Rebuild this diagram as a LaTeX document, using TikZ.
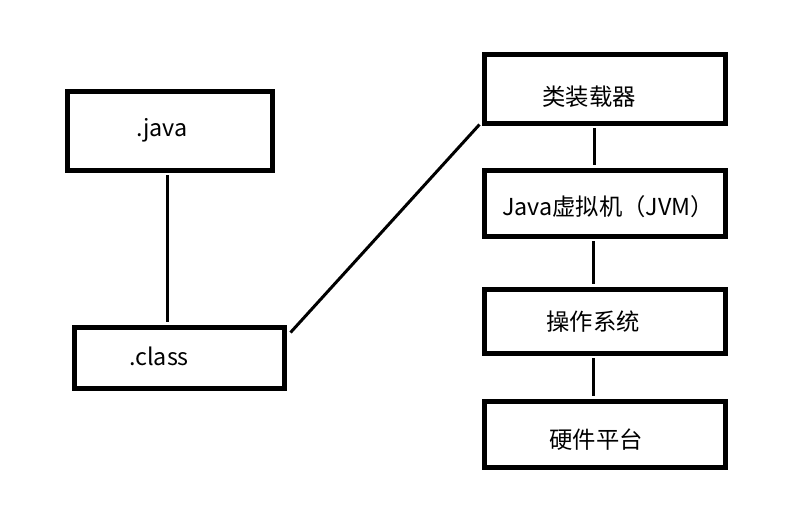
\documentclass[tikz,border=0pt]{standalone}
\usepackage{fontspec}
\setmainfont{Noto Sans CJK SC}
\usetikzlibrary{calc}
\begin{document}
\begin{tikzpicture}[x=0.75pt,y=-0.75pt,
  box/.style={draw=black,line width=3.75pt,fill=white,inner sep=0pt,minimum width=#1},
  box/.default={180.75pt},
  lbl/.style={inner sep=0pt,font=\fontsize{17.5}{20}\selectfont},
  conn/.style={draw=black,line width=2.25pt}]
\useasboundingbox[fill=white] (0,0) rectangle (807,512);
% boxes
\node[box={153.75pt},minimum height={59.25pt}] (java) at (169.5,130.5) {};
\node[box={157.5pt},minimum height={45.75pt}] (class) at (179,357.5) {};
\node[box,minimum height={51.75pt}] (loader) at (604.5,88.5) {};
\node[box,minimum height={49.5pt}] (jvm) at (604.5,203) {};
\node[box,minimum height={48pt}] (os) at (604.5,321) {};
\node[box,minimum height={49.5pt}] (hw) at (604.5,434) {};
% labels
\node[lbl] (tjava) at (162,130) {.java};
\node[lbl] (tclass) at (159,356) {.class};
\node[lbl] (tloader) at (589,97) {类装载器};
\node[lbl] (tjvm) at (608,207) {Java虚拟机（JVM）};
\node[lbl] (tos) at (593,322) {操作系统};
\node[lbl] (thw) at (596,440) {硬件平台};
% connectors
\coordinate (c1) at ($(class.north east)+(4,8)$);
\coordinate (c2) at ($(loader.south west)+(-2,-1)$);
\draw[conn] ($(java.south)+(-2.5,2.5)$) -- ($(class.north)+(-12,-2.5)$);
\draw[conn] (c1) -- (c2);
\draw[conn] ($(loader.south)+(-10.5,2.5)$) -- ($(jvm.north)+(-10.5,-2.5)$);
\draw[conn] ($(jvm.south)+(-11.5,2.5)$) -- ($(os.north)+(-11.5,-2.5)$);
\draw[conn] ($(os.south)+(-11.5,2.5)$) -- ($(hw.north)+(-11.5,-2.5)$);
\end{tikzpicture}
\end{document}
